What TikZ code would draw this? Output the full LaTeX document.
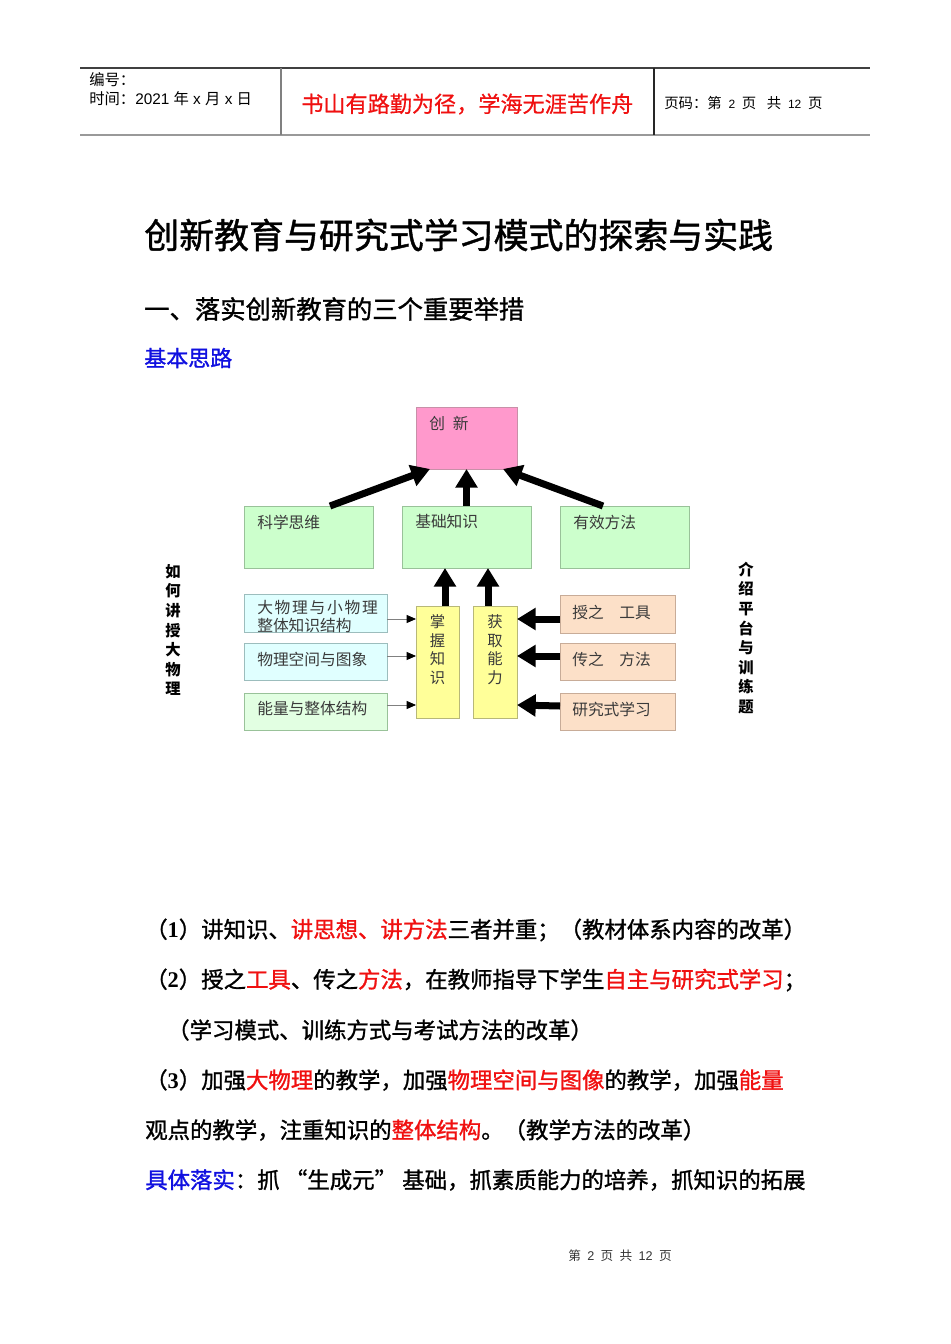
\documentclass[tikz,border=0pt]{standalone}
\usepackage{fontspec}
\setmainfont{Noto Sans CJK SC}
\newfontfamily\semib[FakeBold=1.2]{Noto Sans CJK SC}
\newfontfamily\slightb[FakeBold=0.6]{Noto Sans CJK SC}
\newfontfamily\arialf{Liberation Sans}
\newfontfamily\tnr{Liberation Serif}
\usetikzlibrary{arrows.meta,calc}
\definecolor{pinkfill}{HTML}{FF99CC}
\definecolor{pinkline}{HTML}{C890A8}
\definecolor{greenfill}{HTML}{CCFFCC}
\definecolor{greenline}{HTML}{99C299}
\definecolor{cyanfill}{HTML}{E0FFFF}
\definecolor{cyanline}{HTML}{9CBDBD}
\definecolor{lgreenfill}{HTML}{E2FFE2}
\definecolor{yellowfill}{HTML}{FFFF99}
\definecolor{yellowline}{HTML}{B8B878}
\definecolor{peachfill}{HTML}{FCE0C8}
\definecolor{peachline}{HTML}{C8AC98}
\definecolor{txtred}{HTML}{F01010}
\definecolor{txtblue}{HTML}{1010E0}
\definecolor{boxtxt}{HTML}{3A3A3A}
\tikzset{
  box/.style={draw, line width=0.75pt, inner sep=0pt, outer sep=0pt},
  boxtext/.style={anchor=west, inner sep=0pt, text=boxtxt, font=\fontsize{11.8pt}{13.5pt}\selectfont},
  bigarrow/.style={line width=5.25pt, -{Triangle[width=16pt,length=14pt]}},
  thinarrow/.style={draw=gray, line width=0.6pt, -{Triangle[width=6pt,length=7pt,color=black]}},
  plain/.style={anchor=west, inner sep=0pt},
  vtext/.style={inner sep=0pt, align=center, font=\fontsize{11.5pt}{14.7pt}\selectfont\bfseries},
  ytext/.style={inner sep=0pt, align=center, text=boxtxt, font=\fontsize{11.5pt}{13.9pt}\selectfont},
  body/.style={anchor=west, inner sep=0pt, font=\fontsize{16.8pt}{20pt}\selectfont\semib}
}
\begin{document}
\begin{tikzpicture}[x=0.75pt,y=-0.75pt]
\useasboundingbox (0,0) rectangle (950,1344);
\fill[white] (0,0) rectangle (950,1344);

% header
\coordinate (htl) at (80,68);
\coordinate (htr) at (870,68);
\coordinate (hbl) at (80,135);
\coordinate (hbr) at (870,135);
\draw[line width=0.9pt, color=black!75] (htl) -- (htr);
\draw[line width=1.6pt, color=black!40] (hbl) -- (hbr);
\draw[line width=1.2pt, color=black!50] (281,68) -- (281,135);
\draw[line width=0.9pt, color=black!85] (654,68) -- (654,135);
\node[plain, font=\fontsize{11.5pt}{13pt}\selectfont] (hno) at (89,80) {编号：};
\node[plain, font=\fontsize{11.5pt}{13pt}\selectfont] (htime) at (89,99) {时间：{\arialf 2021 }年{\arialf\ x }月{\arialf\ x }日};
\node[plain, font=\fontsize{16.6pt}{18pt}\selectfont\slightb, text=txtred] (hmotto) at (301,104) {书山有路勤为径，学海无涯苦作舟};
\node[plain, font=\fontsize{10.8pt}{12pt}\selectfont] (hpage) at (664,103) {页码：第\hspace{5pt}{\arialf\small 2}\hspace{5pt}页\hspace{8pt}共\hspace{5pt}{\arialf\small 12}\hspace{5pt}页};

% titles
\node[plain, font=\fontsize{26.2pt}{30pt}\selectfont\semib] (title) at (144,235) {创新教育与研究式学习模式的探索与实践};
\node[plain, font=\fontsize{19pt}{22pt}\selectfont\semib] (sec) at (144,309) {一、落实创新教育的三个重要举措};
\node[plain, font=\fontsize{16.5pt}{20pt}\selectfont\semib, text=txtblue] (sub) at (144,358) {基本思路};

% diagram boxes
\node[box, fill=pinkfill, draw=pinkline, minimum width=75.75pt, minimum height=46.5pt] (cx) at (466.5,438) {};
\node[boxtext] (cxt) at ($(cx.north west)+(13,16)$) {创\enspace 新};

\node[box, fill=greenfill, draw=greenline, minimum width=96.75pt, minimum height=46.5pt] (kx) at (308.5,537) {};
\node[boxtext] (kxt) at ($(kx.north west)+(13,16)$) {科学思维};
\node[box, fill=greenfill, draw=greenline, minimum width=96.75pt, minimum height=46.5pt] (jc) at (466.5,537) {};
\node[boxtext] (jct) at ($(jc.north west)+(13,16)$) {基础知识};
\node[box, fill=greenfill, draw=greenline, minimum width=96.75pt, minimum height=46.5pt] (yx) at (624.5,537) {};
\node[boxtext] (yxt) at ($(yx.north west)+(13,16)$) {有效方法};

\node[box, fill=cyanfill, draw=cyanline, minimum width=107.25pt, minimum height=28.5pt] (l1) at (315.5,613) {};
\node[boxtext, anchor=north west, align=left] (l1t) at ($(l1.north west)+(13,6)$) {大\hspace{1.3pt}物\hspace{1.3pt}理\hspace{1.3pt}与\hspace{1.3pt}小\hspace{1.3pt}物\hspace{1.3pt}理\\整体知识结构};
\node[box, fill=cyanfill, draw=cyanline, minimum width=107.25pt, minimum height=27.75pt] (l2) at (315.5,661.5) {};
\node[boxtext] (l2t) at ($(l2.north west)+(13,16)$) {物理空间与图象};
\node[box, fill=lgreenfill, draw=greenline, minimum width=107.25pt, minimum height=27.75pt] (l3) at (315.5,711.5) {};
\node[boxtext] (l3t) at ($(l3.north west)+(13,16)$) {能量与整体结构};

\node[box, fill=yellowfill, draw=yellowline, minimum width=32.25pt, minimum height=84pt] (zw) at (437.5,662) {};
\node[ytext] (zwt) at (437.5,649.5) {掌\\握\\知\\识};
\node[box, fill=yellowfill, draw=yellowline, minimum width=33pt, minimum height=84pt] (hq) at (495,662) {};
\node[ytext] (hqt) at (495,649.5) {获\\取\\能\\力};

\node[box, fill=peachfill, draw=peachline, minimum width=86.25pt, minimum height=28.5pt] (r1) at (617.5,614) {};
\node[boxtext] (r1t) at ($(r1.north west)+(12,17)$) {授之\quad 工具};
\node[box, fill=peachfill, draw=peachline, minimum width=86.25pt, minimum height=27.75pt] (r2) at (617.5,661.5) {};
\node[boxtext] (r2t) at ($(r2.north west)+(12,16)$) {传之\quad 方法};
\node[box, fill=peachfill, draw=peachline, minimum width=86.25pt, minimum height=27.75pt] (r3) at (617.5,711.5) {};
\node[boxtext] (r3t) at ($(r3.north west)+(12,16)$) {研究式学习};

% side labels
\node[vtext] (lside) at (173,630) {如\\何\\讲\\授\\大\\物\\理};
\node[vtext] (rside) at (746,638) {介\\绍\\平\\台\\与\\训\\练\\题};

% arrows
\draw[bigarrow] ($(kx.north)+(21.5,0)$) -- ($(cx.south west)+(14,0)$);
\draw[bigarrow] (jc.north) -- (cx.south);
\draw[bigarrow] ($(yx.north)+(-21.5,0)$) -- ($(cx.south east)+(-14,0)$);
\draw[bigarrow] (zw.north -| 445,0) -- (jc.south -| 445,0);
\draw[bigarrow] (hq.north -| 488,0) -- (jc.south -| 488,0);
\draw[bigarrow] ($(r1.north west)+(0,24)$) -- ($(hq.north east)+(0,13)$);
\draw[bigarrow] ($(r2.north west)+(0,13)$) -- ($(hq.north east)+(0,50)$);
\draw[bigarrow] ($(r3.north west)+(0,13)$) -- ($(hq.north east)+(0,99)$);
\draw[thinarrow] ($(l1.north east)+(0,25)$) -- ($(zw.north west)+(0,13)$);
\draw[thinarrow] ($(l2.north east)+(0,13)$) -- ($(zw.north west)+(0,50)$);
\draw[thinarrow] ($(l3.north east)+(0,12)$) -- ($(zw.north west)+(0,99)$);

% body text
\node[body] (b1) at (145,930) {（{\tnr\bfseries 1}）讲知识、\textcolor{txtred}{讲思想、讲方法}三者并重；（教材体系内容的改革）};
\node[body] (b2) at (145,980) {（{\tnr\bfseries 2}）授之\textcolor{txtred}{工具}、传之\textcolor{txtred}{方法}，在教师指导下学生\textcolor{txtred}{自主与研究式学习}；};
\node[body] (b3) at (167,1030) {（学习模式、训练方式与考试方法的改革）};
\node[body] (b4) at (145,1080) {（{\tnr\bfseries 3}）加强\textcolor{txtred}{大物理}的教学，加强\textcolor{txtred}{物理空间与图像}的教学，加强\textcolor{txtred}{能量}};
\node[body] (b5) at (145,1130) {观点的教学，注重知识的\textcolor{txtred}{整体结构}。（教学方法的改革）};
\node[body] (b6) at (145,1180) {\textcolor{txtblue}{具体落实}：抓\hspace{4pt}“生成元”\hspace{4pt}基础，抓素质能力的培养，抓知识的拓展};

% footer
\node[inner sep=0pt, font=\fontsize{9.5pt}{11pt}\selectfont, text=black!80] (foot) at (620,1256) {第\enspace{\arialf 2}\enspace 页\enspace 共\enspace{\arialf 12}\enspace 页};
\end{tikzpicture}
\end{document}
